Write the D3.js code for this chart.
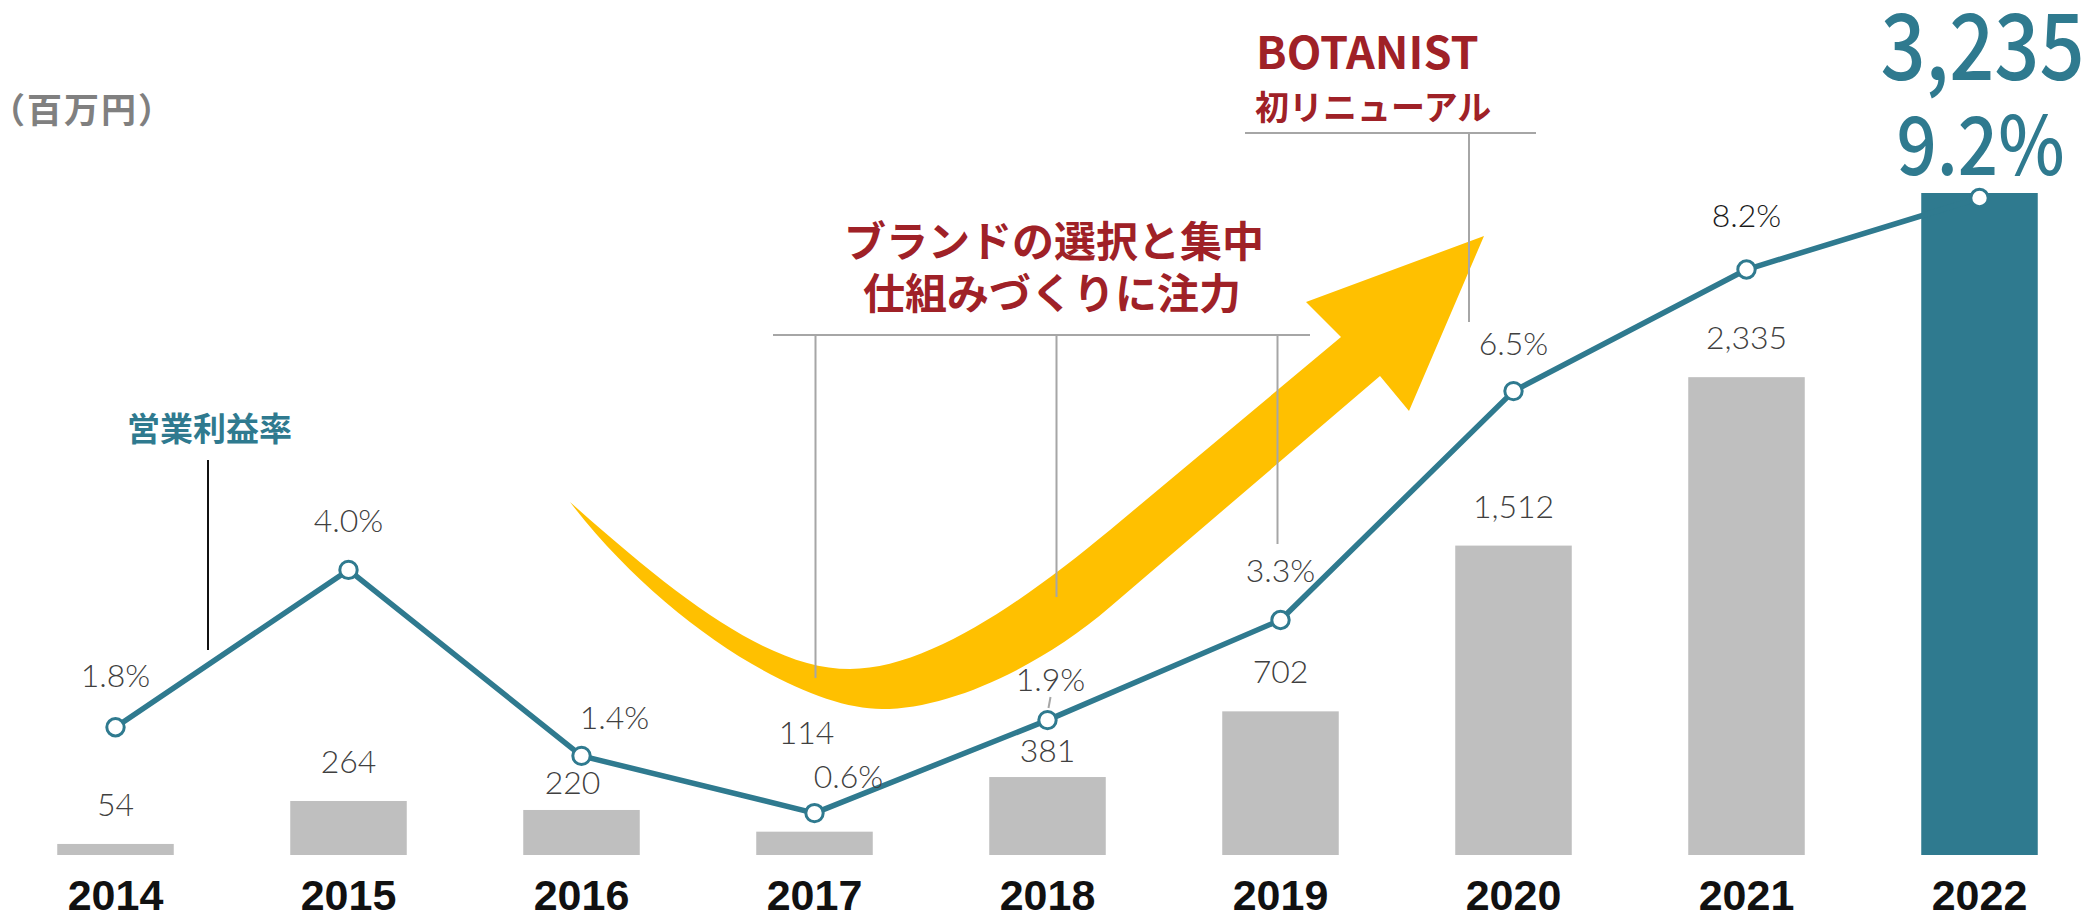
<!DOCTYPE html>
<html>
<head>
<meta charset="utf-8">
<title>営業利益と営業利益率</title>
<script src="https://d3js.org/d3.v7.min.js"></script>
<style>
    body { margin: 0; background: #fff; }
    svg { display: block; font-family: "Noto Sans CJK JP", "Noto Sans", sans-serif; }
    .val { font-family: Lato, "Noto Sans CJK JP", sans-serif; font-size: 32px; font-weight: 300; fill: #404040; }
    .year { font-size: 43px; font-weight: 700; fill: #111; }
    .note { fill: #9f2127; font-weight: 700; }
    .guide { stroke: #a6a6a6; stroke-width: 2; fill: none; }
</style>
</head>
<body>
<svg id="chart" width="2092" height="914"></svg>
<script>
    // data
    const years = ["2014", "2015", "2016", "2017", "2018", "2019", "2020", "2021", "2022"];
    const profit = [54, 264, 220, 114, 381, 702, 1512, 2335, 3235];   // 百万円
    const margin = [1.8, 4.0, 1.4, 0.6, 1.9, 3.3, 6.5, 8.2, 9.2];     // %

    const teal = "#2f7a8f";
    const grey = "#bfbfbf";

    const svg = d3.select("#chart");
    const W = +svg.attr("width");
    const baseY = 855;

    const x = d3.scaleBand().domain(years).range([-1, W + 4]).paddingInner(0.5).paddingOuter(0.25);
    const cx = d => x(d) + x.bandwidth() / 2;
    const yBar = d3.scaleLinear().domain([0, d3.max(profit)]).range([baseY, 193]);
    const yPct = d3.scaleLinear().domain([0, d3.max(margin)]).range([856, 198]);

    const rows = years.map((yr, i) => ({ year: yr, profit: profit[i], margin: margin[i], last: i === years.length - 1 }));

    // bars
    svg.append("g").selectAll("rect")
        .data(rows)
        .join("rect")
        .attr("x", d => x(d.year))
        .attr("width", x.bandwidth())
        .attr("y", d => yBar(d.profit))
        .attr("height", d => baseY - yBar(d.profit))
        .attr("fill", d => d.last ? teal : grey);

    // yellow swoosh arrow (decoration)
    const p = d3.path();
    p.moveTo(570, 502);
    p.bezierCurveTo(680, 600, 770, 669, 850, 669);
    p.bezierCurveTo(930, 669, 1030, 596, 1110, 530);
    p.lineTo(1341, 337);
    p.lineTo(1306, 302);
    p.lineTo(1484, 236);
    p.lineTo(1409, 411);
    p.lineTo(1380, 376);
    p.lineTo(1110, 607);
    p.bezierCurveTo(1040, 667, 950, 709, 882, 709);
    p.bezierCurveTo(800, 709, 660, 620, 570, 502);
    p.closePath();
    svg.append("path").attr("d", p.toString()).attr("fill", "#ffc000");

    // annotation guides
    const guides = svg.append("g").attr("class", "guide");
    guides.append("line").attr("x1", 773).attr("x2", 1310).attr("y1", 335).attr("y2", 335);
    [[cx("2017") + 1, 678], [cx("2018") + 9, 597], [cx("2019") - 3, 544]].forEach(([gx, gy]) => {
        guides.append("line").attr("x1", gx).attr("x2", gx).attr("y1", 335).attr("y2", gy);
    });
    guides.append("line").attr("x1", 1245).attr("x2", 1536).attr("y1", 133).attr("y2", 133);
    guides.append("line").attr("x1", 1469).attr("x2", 1469).attr("y1", 133).attr("y2", 322);
    guides.append("line").attr("x1", cx("2018") + 3).attr("x2", cx("2018") + 1).attr("y1", 697).attr("y2", 708);

    svg.append("line")
        .attr("x1", 208).attr("x2", 208).attr("y1", 460).attr("y2", 650)
        .attr("stroke", "#111").attr("stroke-width", 2);

    // margin line
    const line = d3.line().x(d => cx(d.year)).y(d => yPct(d.margin));
    svg.append("path")
        .datum(rows)
        .attr("d", line)
        .attr("fill", "none")
        .attr("stroke", teal)
        .attr("stroke-width", 5.5)
        .attr("stroke-linejoin", "round");

    svg.append("g").selectAll("circle")
        .data(rows)
        .join("circle")
        .attr("cx", d => cx(d.year))
        .attr("cy", d => yPct(d.margin))
        .attr("r", 8.7)
        .attr("fill", "#fff")
        .attr("stroke", teal)
        .attr("stroke-width", 3);

    // bar value labels (some nudged clear of the line)
    const barNudge = { "2016": [-9, -16], "2017": [-8, -88], "2018": [0, -15] };
    svg.append("g").selectAll("text")
        .data(rows.filter(d => !d.last))
        .join("text")
        .attr("class", "val")
        .attr("text-anchor", "middle")
        .attr("x", d => cx(d.year) + (barNudge[d.year] || [0, -28])[0])
        .attr("y", d => yBar(d.profit) + (barNudge[d.year] || [0, -28])[1])
        .text(d => d3.format(",")(d.profit));

    // margin labels
    const pctNudge = { "2014": [0, -40], "2016": [33, -27], "2017": [34, -25], "2018": [3, -29], "2020": [0, -36], "2021": [0, -43] };
    svg.append("g").selectAll("text")
        .data(rows.filter(d => !d.last))
        .join("text")
        .attr("class", "val")
        .attr("text-anchor", "middle")
        .style("fill", d => d.year === "2021" ? "#1a1a1a" : null)
        .attr("x", d => cx(d.year) + (pctNudge[d.year] || [0, -38])[0])
        .attr("y", d => yPct(d.margin) + (pctNudge[d.year] || [0, -38])[1])
        .text(d => d3.format(".1f")(d.margin) + "%");

    // highlighted latest year
    const last = rows[rows.length - 1];
    svg.append("text")
        .attr("x", cx(last.year) + 3).attr("y", 80)
        .attr("text-anchor", "middle")
        .attr("fill", teal)
        .attr("font-size", 92).attr("font-weight", 500)
        .attr("textLength", 204).attr("lengthAdjust", "spacingAndGlyphs")
        .text(d3.format(",")(last.profit));
    svg.append("text")
        .attr("x", cx(last.year) + 1).attr("y", 175)
        .attr("text-anchor", "middle")
        .attr("fill", teal)
        .attr("font-size", 81).attr("font-weight", 500)
        .attr("textLength", 168).attr("lengthAdjust", "spacingAndGlyphs")
        .text(d3.format(".1f")(last.margin) + "%");

    // year axis
    const xAxis = d3.axisBottom(x).tickSize(0).tickPadding(0);
    const ax = svg.append("g").attr("transform", `translate(0,${baseY})`).call(xAxis);
    ax.select(".domain").remove();
    ax.selectAll("text")
        .attr("class", "year")
        .attr("dy", null)
        .attr("y", 55)
        .attr("font-family", null)
        .attr("font-size", null)
        .attr("fill", null);

    // titles and notes
    svg.append("text")
        .attr("x", -10).attr("y", 123)
        .attr("font-size", 35).attr("font-weight", 700).attr("fill", "#808080").attr("letter-spacing", 2)
        .text("（百万円）");

    svg.append("text")
        .attr("x", 127).attr("y", 441)
        .attr("font-size", 33).attr("font-weight", 700).attr("fill", teal)
        .text("営業利益率");

    svg.append("text").attr("class", "note")
        .attr("x", 1054).attr("y", 257).attr("text-anchor", "middle").attr("font-size", 42)
        .text("ブランドの選択と集中");
    svg.append("text").attr("class", "note")
        .attr("x", 1052).attr("y", 309).attr("text-anchor", "middle").attr("font-size", 42)
        .text("仕組みづくりに注力");

    svg.append("text").attr("class", "note")
        .attr("x", 1256).attr("y", 69).attr("font-size", 45)
        .text("BOTANIST");
    svg.append("text").attr("class", "note")
        .attr("x", 1255).attr("y", 120).attr("font-size", 34)
        .text("初リニューアル");
</script>
</body>
</html>
